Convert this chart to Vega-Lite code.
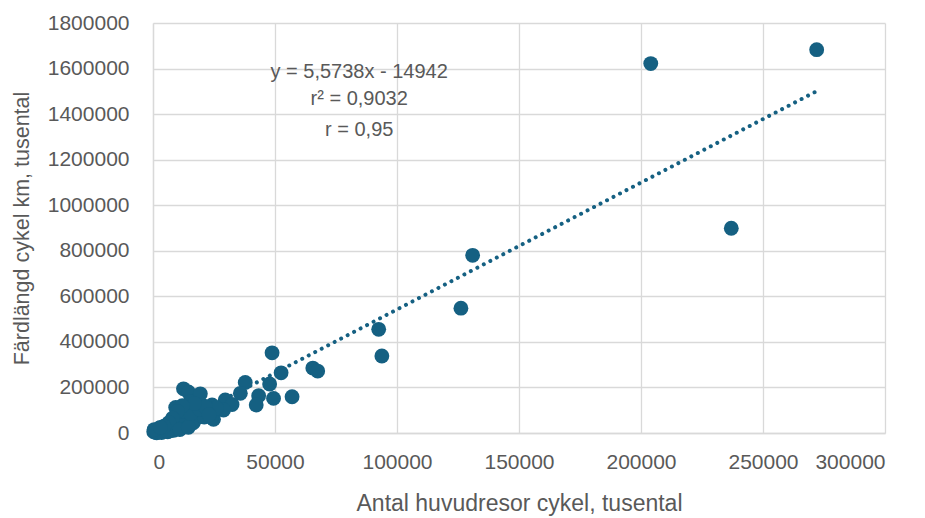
{
  "$schema": "https://vega.github.io/schema/vega-lite/v6.json",
  "width": 732,
  "height": 410,
  "autosize": {"type": "none"},
  "padding": {"left": 153, "top": 23, "right": 40, "bottom": 85},
  "background": "white",
  "config": {
    "view": {"stroke": null},
    "font": "Liberation Sans",
    "axis": {
      "gridColor": "#d9d9d9",
      "gridWidth": 1.3,
      "domainColor": "#d9d9d9",
      "domainWidth": 1.3,
      "ticks": false,
      "labelColor": "#595959",
      "labelFontSize": 21,
      "labelFont": "Liberation Sans",
      "titleColor": "#595959",
      "titleFontSize": 21.5,
      "titleFontWeight": "normal",
      "titleFont": "Liberation Sans"
    }
  },
  "datasets": {
    "pts": [
      {"x": 204000, "y": 1622000},
      {"x": 272000, "y": 1683000},
      {"x": 237000, "y": 899000},
      {"x": 131000, "y": 780000},
      {"x": 126200, "y": 548000},
      {"x": 92500, "y": 455000},
      {"x": 93800, "y": 338000},
      {"x": 48800, "y": 352000},
      {"x": 65500, "y": 285000},
      {"x": 67500, "y": 272000},
      {"x": 52500, "y": 264000},
      {"x": 47800, "y": 215000},
      {"x": 37800, "y": 222000},
      {"x": 35800, "y": 174000},
      {"x": 57000, "y": 159000},
      {"x": 49400, "y": 152000},
      {"x": 43300, "y": 164000},
      {"x": 42300, "y": 123000},
      {"x": 29600, "y": 145000},
      {"x": 32400, "y": 125000},
      {"x": 28900, "y": 101000},
      {"x": 12500, "y": 194000},
      {"x": 14500, "y": 180000},
      {"x": 19400, "y": 172000},
      {"x": 9300, "y": 112000},
      {"x": 15300, "y": 137000},
      {"x": 24200, "y": 123000},
      {"x": 24800, "y": 60000},
      {"x": 24000, "y": 68000},
      {"x": 18700, "y": 71000},
      {"x": 20000, "y": 85000},
      {"x": 22000, "y": 95000},
      {"x": 17000, "y": 100000},
      {"x": 13000, "y": 60000},
      {"x": 16000, "y": 115000},
      {"x": 11200, "y": 42000},
      {"x": 300, "y": 6000},
      {"x": 5700, "y": 35000},
      {"x": 1000, "y": 3000},
      {"x": 2000, "y": 12000},
      {"x": 3000, "y": 8000},
      {"x": 4000, "y": 20000},
      {"x": 5000, "y": 15000},
      {"x": 6500, "y": 25000},
      {"x": 7500, "y": 18000},
      {"x": 8000, "y": 30000},
      {"x": 9000, "y": 40000},
      {"x": 10000, "y": 28000},
      {"x": 10500, "y": 55000},
      {"x": 12000, "y": 35000},
      {"x": 13500, "y": 48000},
      {"x": 14000, "y": 75000},
      {"x": 15000, "y": 55000},
      {"x": 16500, "y": 45000},
      {"x": 17500, "y": 62000},
      {"x": 18000, "y": 90000},
      {"x": 19000, "y": 80000},
      {"x": 21000, "y": 70000},
      {"x": 22500, "y": 105000},
      {"x": 26000, "y": 110000},
      {"x": 20500, "y": 120000},
      {"x": 1500, "y": 1000},
      {"x": 2500, "y": 20000},
      {"x": 3500, "y": 2000},
      {"x": 500, "y": 15000},
      {"x": 7000, "y": 10000},
      {"x": 8500, "y": 12000},
      {"x": 6000, "y": 5000},
      {"x": 11500, "y": 80000},
      {"x": 13000, "y": 95000},
      {"x": 15500, "y": 85000},
      {"x": 19000, "y": 105000},
      {"x": 21500, "y": 115000},
      {"x": 23000, "y": 80000},
      {"x": 17000, "y": 130000},
      {"x": 12000, "y": 120000},
      {"x": 10000, "y": 95000},
      {"x": 8000, "y": 65000},
      {"x": 6500, "y": 45000},
      {"x": 4500, "y": 30000},
      {"x": 3000, "y": 25000},
      {"x": 11000, "y": 15000},
      {"x": 14500, "y": 25000}
    ],
    "trend": [
      {"x": 2681, "y": 0},
      {"x": 271500, "y": 1498000}
    ],
    "notes": [
      {"x": 84500, "y": 1583000, "label": "y = 5,5738x - 14942"},
      {"x": 84500, "y": 1465000, "label": "r² = 0,9032"},
      {"x": 84500, "y": 1329000, "label": "r = 0,95"}
    ]
  },
  "layer": [
    {
      "data": {"name": "trend"},
      "mark": {"type": "line", "color": "#156082", "strokeWidth": 4, "strokeCap": "round", "strokeDash": [0.01, 7.3]},
      "encoding": {
        "x": {"field": "x", "type": "quantitative", "scale": {"domain": [0, 300000], "nice": false},
          "axis": {"values": [0, 50000, 100000, 150000, 200000, 250000, 300000], "format": "d", "labelPadding": 18, "title": "Antal huvudresor cykel, tusental", "titleFontSize": 23, "titleY": 70, "titleBaseline": "middle"}},
        "y": {"field": "y", "type": "quantitative", "scale": {"domain": [0, 1800000], "nice": false},
          "axis": {"values": [0, 200000, 400000, 600000, 800000, 1000000, 1200000, 1400000, 1600000, 1800000], "format": "d", "labelPadding": 24, "title": "Färdlängd cykel km, tusental", "titleX": -131, "titleY": 205, "titleAngle": -90, "titleAlign": "center", "titleBaseline": "middle"}}
      }
    },
    {
      "data": {"name": "pts"},
      "mark": {"type": "circle", "color": "#156082", "opacity": 1, "size": 220},
      "encoding": {
        "x": {"field": "x", "type": "quantitative"},
        "y": {"field": "y", "type": "quantitative"}
      }
    },
    {
      "data": {"name": "notes"},
      "mark": {"type": "text", "fontSize": 20, "color": "#595959", "align": "center", "baseline": "middle", "font": "Liberation Sans"},
      "encoding": {
        "x": {"field": "x", "type": "quantitative"},
        "y": {"field": "y", "type": "quantitative"},
        "text": {"field": "label"}
      }
    }
  ]
}
